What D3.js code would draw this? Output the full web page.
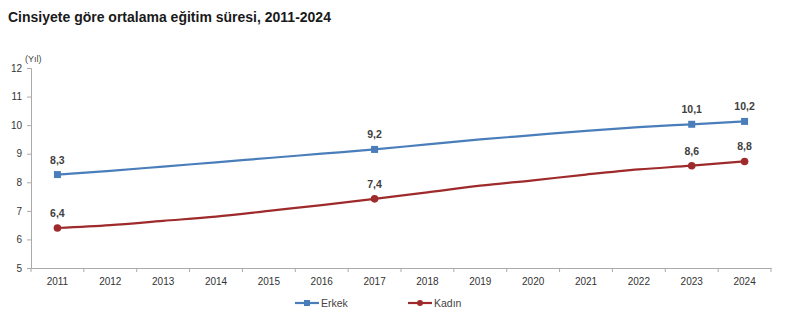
<!DOCTYPE html>
<html><head><meta charset="utf-8">
<script src="https://cdn.jsdelivr.net/npm/d3@7"></script>
<style>body{margin:0;background:#fff;font-family:"Liberation Sans",Arial,sans-serif;}</style>
</head><body><svg id="c" width="800" height="336"></svg>
<script>
const years = ["2011","2012","2013","2014","2015","2016","2017","2018","2019","2020","2021","2022","2023","2024"];
const erkek = [8.27,8.40,8.55,8.70,8.85,9.00,9.15,9.33,9.50,9.65,9.80,9.93,10.03,10.13];
const kadin = [6.40,6.50,6.65,6.80,7.00,7.20,7.42,7.65,7.88,8.07,8.27,8.45,8.58,8.73];
const erkekLabels = ["8,3","","","","","","9,2","","","","","","10,1","10,2"];
const kadinLabels = ["6,4","","","","","","7,4","","","","","","8,6","8,8"];
const yTicks = [5,6,7,8,9,10,11,12];

const svg = d3.select("#c");
const x = d3.scaleBand().domain(years).range([31,771]);
const y = d3.scaleLinear().domain([5,12]).range([268,68]);

svg.append("text").attr("x",8).attr("y",22).attr("font-size",14).attr("font-weight","bold").attr("fill","#1a1a1a")
  .text("Cinsiyete göre ortalama eğitim süresi, 2011-2024");
svg.append("text").attr("x",25).attr("y",62).attr("font-size",9).attr("fill","#444").text("(Yıl)");

const ya = svg.append("g").attr("transform","translate(31,0)").call(d3.axisLeft(y).tickValues(yTicks).tickFormat(d3.format("d")).tickSize(4).tickPadding(5));
ya.select(".domain").attr("stroke","#aaa");
ya.selectAll(".tick line").attr("stroke","#aaa");
ya.selectAll("text").attr("font-size",10).attr("fill","#333").attr("font-family","Liberation Sans, Arial, sans-serif");

const xa = svg.append("g").attr("transform","translate(0,268)").call(d3.axisBottom(x).tickSize(0).tickPadding(10));
xa.select(".domain").attr("stroke","#aaa");
xa.selectAll("text").attr("font-size",10).attr("fill","#333").attr("font-family","Liberation Sans, Arial, sans-serif");
const edges = years.map(d=>x(d)).concat([x.range()[1]]);
svg.append("g").selectAll("line").data(edges).join("line")
  .attr("x1",d=>d).attr("x2",d=>d).attr("y1",268).attr("y2",272).attr("stroke","#aaa");

const cx = d=>x(d)+x.bandwidth()/2;
const line = d3.line().x((d,i)=>cx(years[i])).y(d=>y(d)).curve(d3.curveMonotoneX);

const series = [
  {name:"Erkek", vals:erkek, labels:erkekLabels, color:"#4a7ebb", shape:"square"},
  {name:"Kadın", vals:kadin, labels:kadinLabels, color:"#9e2a2b", shape:"circle"}
];
series.forEach(s=>{
  svg.append("path").attr("d",line(s.vals)).attr("fill","none").attr("stroke",s.color).attr("stroke-width",2.2);
  const idx = s.labels.map((l,i)=>l?i:-1).filter(i=>i>=0);
  idx.forEach(i=>{
    const px=cx(years[i]), py=y(s.vals[i]);
    if(s.shape==="square") svg.append("rect").attr("x",px-3.5).attr("y",py-3.5).attr("width",7).attr("height",7).attr("fill",s.color);
    else svg.append("circle").attr("cx",px).attr("cy",py).attr("r",3.8).attr("fill",s.color);
    svg.append("text").attr("x",px).attr("y",py-11).attr("text-anchor","middle").attr("font-size",10.5).attr("font-weight","bold").attr("fill","#404040").text(s.labels[i]);
  });
});

const lg = [{s:series[0],x:295},{s:series[1],x:408}];
lg.forEach(({s,x:lx})=>{
  const g = svg.append("g");
  g.append("line").attr("x1",lx).attr("x2",lx+24).attr("y1",303).attr("y2",303).attr("stroke",s.color).attr("stroke-width",2.2);
  if(s.shape==="square") g.append("rect").attr("x",lx+9).attr("y",300).attr("width",6).attr("height",6).attr("fill",s.color);
  else g.append("circle").attr("cx",lx+12).attr("cy",303).attr("r",3).attr("fill",s.color);
  g.append("text").attr("x",lx+26).attr("y",307).attr("font-size",10.5).attr("fill","#444").text(s.name);
});
</script></body></html>
